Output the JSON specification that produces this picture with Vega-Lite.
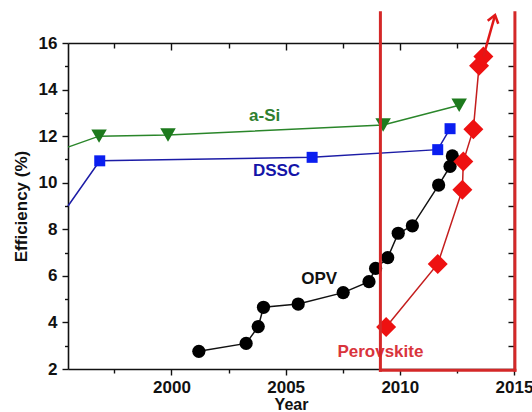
{
  "$schema": "https://vega.github.io/schema/vega-lite/v6.json",
  "width": 446,
  "height": 326,
  "autosize": {"type": "none"},
  "padding": {"left": 68, "top": 43, "right": 18, "bottom": 43},
  "background": "white",
  "config": {
    "font": "Liberation Sans",
    "view": {"stroke": null},
    "axis": {
      "labelFont": "Liberation Sans",
      "labelFontSize": 17,
      "labelFontWeight": "bold",
      "labelColor": "#111111",
      "titleFont": "Liberation Sans",
      "titleFontSize": 17,
      "titleFontWeight": "bold",
      "titleColor": "#111111",
      "domainColor": "#111111",
      "domainWidth": 1.6,
      "tickColor": "#111111",
      "tickWidth": 1.4,
      "grid": false,
      "labelFlush": false,
      "labelOverlap": false
    }
  },
  "datasets": {
    "opv": [
      {"year": 2001.2, "eff": 2.76},
      {"year": 2003.27, "eff": 3.1},
      {"year": 2003.8, "eff": 3.82},
      {"year": 2004.03, "eff": 4.65},
      {"year": 2005.55, "eff": 4.79},
      {"year": 2007.52, "eff": 5.28},
      {"year": 2008.65, "eff": 5.75},
      {"year": 2008.94, "eff": 6.32},
      {"year": 2009.47, "eff": 6.78},
      {"year": 2009.93, "eff": 7.83},
      {"year": 2010.55, "eff": 8.15},
      {"year": 2011.7, "eff": 9.9},
      {"year": 2012.2, "eff": 10.7},
      {"year": 2012.3, "eff": 11.15}
    ],
    "dssc": [
      {"year": 1995.47, "eff": 9.0},
      {"year": 1996.86, "eff": 10.94},
      {"year": 2006.16, "eff": 11.09},
      {"year": 2011.66, "eff": 11.42},
      {"year": 2012.2, "eff": 12.32}
    ],
    "asi": [
      {"year": 1995.47, "eff": 11.53},
      {"year": 1996.83, "eff": 12.0},
      {"year": 1999.85, "eff": 12.05},
      {"year": 2009.27, "eff": 12.48},
      {"year": 2012.6, "eff": 13.33}
    ],
    "perov": [
      {"year": 2009.4, "eff": 3.8},
      {"year": 2011.66, "eff": 6.51},
      {"year": 2012.74, "eff": 9.7},
      {"year": 2012.78, "eff": 10.91},
      {"year": 2013.22, "eff": 12.3},
      {"year": 2013.47, "eff": 15.02},
      {"year": 2013.66, "eff": 15.42}
    ],
    "arrow": [
      {"year": 2013.66, "eff": 15.42},
      {"year": 2014.17, "eff": 17.2}
    ],
    "arrowhead": [
      {"year": 2014.17, "eff": 17.2}
    ],
    "boxsides": [
      {"year": 2009.15, "bottom": 1.95, "top": 17.3},
      {"year": 2015.04, "bottom": 1.95, "top": 17.3}
    ],
    "boxbottom": [
      {"start": 2009.15, "end": 2015.04, "eff": 1.95}
    ],
    "labels": [
      {"series": "a-Si", "year": 2004.08, "eff": 12.85},
      {"series": "DSSC", "year": 2004.6, "eff": 10.5},
      {"series": "OPV", "year": 2006.47, "eff": 5.86},
      {"series": "Perovskite", "year": 2009.15, "eff": 2.72}
    ]
  },
  "resolve": {"axis": {"x": "independent", "y": "independent"}},
  "layer": [
    {
      "data": {"name": "opv"},
      "mark": {"type": "line", "color": "#111111", "strokeWidth": 1.5},
      "encoding": {
        "x": {
          "field": "year", "type": "quantitative",
          "scale": {"domain": [1995.47, 2015], "nice": false, "zero": false},
          "axis": {
            "orient": "bottom",
            "values": [1997.5, 2000, 2002.5, 2005, 2007.5, 2010, 2012.5, 2015],
            "format": "d",
            "labelExpr": "datum.value % 5 === 0 ? datum.label : ''",
            "tickSize": {"condition": {"test": "datum.value % 5 === 0", "value": 6}, "value": 4},
            "labelPadding": 4,
            "title": "Year",
            "titleFontSize": 16,
            "titlePadding": 1
          }
        },
        "y": {
          "field": "eff", "type": "quantitative",
          "scale": {"domain": [2, 16], "nice": false, "zero": false},
          "axis": {
            "orient": "left",
            "values": [2, 3, 4, 5, 6, 7, 8, 9, 10, 11, 12, 13, 14, 15, 16],
            "labelExpr": "datum.value % 2 === 0 ? datum.label : ''",
            "tickSize": {"condition": {"test": "datum.value % 2 === 0", "value": 6}, "value": 3.5},
            "labelPadding": 5,
            "title": "Efficiency (%)",
            "titlePadding": 8
          }
        }
      }
    },
    {
      "data": {"name": "dssc"},
      "mark": {"type": "line", "color": "#1c1ca6", "strokeWidth": 1.5},
      "encoding": {
        "x": {
          "field": "year", "type": "quantitative",
          "scale": {"domain": [1995.47, 2015], "nice": false, "zero": false},
          "axis": {
            "orient": "top",
            "values": [1997.5, 2000, 2002.5, 2005, 2007.5, 2010, 2012.5],
            "labels": false,
            "tickSize": {"condition": {"test": "datum.value % 5 === 0", "value": -7}, "value": -5},
            "title": null
          }
        },
        "y": {
          "field": "eff", "type": "quantitative",
          "scale": {"domain": [2, 16], "nice": false, "zero": false},
          "axis": {
            "orient": "right",
            "values": [3, 4, 5, 6, 7, 8, 9, 10, 11, 12, 13, 14, 15],
            "labels": false,
            "tickSize": -6,
            "title": null
          }
        }
      }
    },
    {
      "data": {"name": "asi"},
      "mark": {"type": "line", "color": "#2a862a", "strokeWidth": 1.5},
      "encoding": {
        "x": {"field": "year", "type": "quantitative", "axis": null},
        "y": {"field": "eff", "type": "quantitative", "axis": null}
      }
    },
    {
      "data": {"name": "perov"},
      "mark": {"type": "line", "color": "#c41e1e", "strokeWidth": 1.5},
      "encoding": {
        "x": {"field": "year", "type": "quantitative", "axis": null},
        "y": {"field": "eff", "type": "quantitative", "axis": null}
      }
    },
    {
      "data": {"name": "opv"},
      "mark": {"type": "point", "shape": "circle", "filled": true, "color": "#000000", "size": 175, "opacity": 1},
      "encoding": {
        "x": {"field": "year", "type": "quantitative", "axis": null},
        "y": {"field": "eff", "type": "quantitative", "axis": null}
      }
    },
    {
      "data": {"name": "dssc"},
      "transform": [{"filter": "datum.year > 1996"}],
      "mark": {"type": "point", "shape": "square", "filled": true, "color": "#0a1ef0", "size": 121, "opacity": 1},
      "encoding": {
        "x": {"field": "year", "type": "quantitative", "axis": null},
        "y": {"field": "eff", "type": "quantitative", "axis": null}
      }
    },
    {
      "data": {"name": "asi"},
      "transform": [{"filter": "datum.year > 1996"}],
      "mark": {"type": "point", "shape": "triangle-down", "filled": true, "color": "#1d7a1d", "size": 240, "opacity": 1},
      "encoding": {
        "x": {"field": "year", "type": "quantitative", "axis": null},
        "y": {"field": "eff", "type": "quantitative", "axis": null}
      }
    },
    {
      "data": {"name": "perov"},
      "mark": {"type": "point", "shape": "diamond", "filled": true, "color": "#ee1111", "size": 400, "opacity": 1},
      "encoding": {
        "x": {"field": "year", "type": "quantitative", "axis": null},
        "y": {"field": "eff", "type": "quantitative", "axis": null}
      }
    },
    {
      "data": {"name": "arrow"},
      "mark": {"type": "line", "color": "#e01818", "strokeWidth": 2.5},
      "encoding": {
        "x": {"field": "year", "type": "quantitative", "axis": null},
        "y": {"field": "eff", "type": "quantitative", "axis": null}
      }
    },
    {
      "data": {"name": "arrowhead"},
      "mark": {"type": "point", "shape": "M-0.55,0.75L0,0L0.55,0.75", "filled": false, "stroke": "#e01818", "strokeWidth": 2.5, "size": 400, "angle": 16, "opacity": 1},
      "encoding": {
        "x": {"field": "year", "type": "quantitative", "axis": null},
        "y": {"field": "eff", "type": "quantitative", "axis": null}
      }
    },
    {
      "data": {"name": "labels"},
      "mark": {"type": "text", "font": "Liberation Sans", "fontSize": 17, "fontWeight": "bold", "align": "center", "baseline": "middle"},
      "encoding": {
        "x": {"field": "year", "type": "quantitative", "axis": null},
        "y": {"field": "eff", "type": "quantitative", "axis": null},
        "text": {"field": "series"},
        "color": {
          "field": "series", "type": "nominal", "legend": null,
          "scale": {"domain": ["a-Si", "DSSC", "OPV", "Perovskite"], "range": ["#2f7f2f", "#1414a8", "#111111", "#d9343c"]}
        }
      }
    },
    {
      "data": {"name": "boxsides"},
      "mark": {"type": "rule", "color": "#d42828", "strokeWidth": 3, "strokeCap": "square"},
      "encoding": {
        "x": {"field": "year", "type": "quantitative", "axis": null},
        "y": {"field": "bottom", "type": "quantitative", "axis": null},
        "y2": {"field": "top"}
      }
    },
    {
      "data": {"name": "boxbottom"},
      "mark": {"type": "rule", "color": "#d42828", "strokeWidth": 3, "strokeCap": "square"},
      "encoding": {
        "x": {"field": "start", "type": "quantitative", "axis": null},
        "x2": {"field": "end"},
        "y": {"field": "eff", "type": "quantitative", "axis": null}
      }
    }
  ]
}
